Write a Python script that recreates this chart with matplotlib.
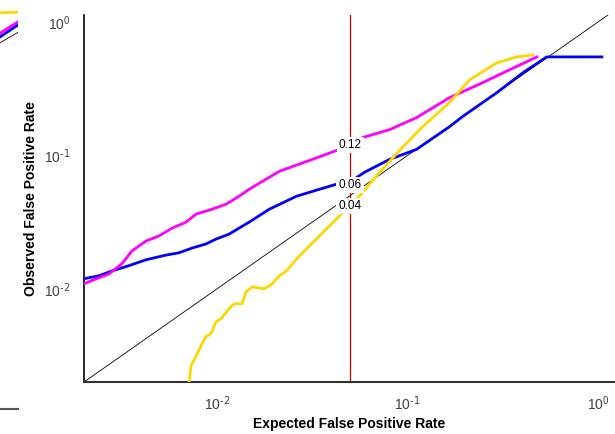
import numpy as np
import matplotlib
matplotlib.use("Agg")
import matplotlib.pyplot as plt

plt.rcParams['font.family'] = ['Liberation Sans', 'DejaVu Sans']
plt.rcParams['mathtext.default'] = 'regular'

# expected vs observed false positive rate
magenta_x = [0.002, 0.00239, 0.0027, 0.00316, 0.00357, 0.00423, 0.00495, 0.0058, 0.00687, 0.00775,
             0.00941, 0.01115, 0.01305, 0.01473, 0.0212, 0.0316, 0.0439, 0.0514, 0.058, 0.0804,
             0.1115, 0.166, 0.248, 0.344, 0.478]
magenta_y = [0.0109, 0.0121, 0.0129, 0.0154, 0.0192, 0.0228, 0.0249, 0.0285, 0.0316, 0.0363,
             0.0395, 0.0431, 0.0494, 0.0557, 0.076, 0.0933, 0.111, 0.119, 0.136, 0.156,
             0.192, 0.271, 0.351, 0.439, 0.548]

blue_x = [0.002, 0.00239, 0.0028, 0.00344, 0.00423, 0.0054, 0.0063, 0.00738, 0.00875, 0.00988,
          0.01157, 0.01473, 0.0188, 0.0261, 0.0344, 0.0439, 0.0514, 0.0594, 0.0804, 0.1115,
          0.166, 0.195, 0.294, 0.403, 0.539, 1.05]
blue_y = [0.0119, 0.0125, 0.0136, 0.0149, 0.0165, 0.0179, 0.0186, 0.0202, 0.0217, 0.0236,
          0.0257, 0.0316, 0.0395, 0.0494, 0.0557, 0.0618, 0.065, 0.0747, 0.0933, 0.111,
          0.164, 0.196, 0.295, 0.416, 0.548, 0.548]

yellow_x = [0.0071, 0.00713, 0.0073, 0.00775, 0.00824, 0.00875, 0.00929, 0.00988, 0.0105, 0.01157,
            0.01229, 0.01355, 0.0142, 0.0153, 0.0177, 0.0195, 0.0212, 0.0231, 0.0261, 0.0332,
            0.0466, 0.0558, 0.0713, 0.0942, 0.12, 0.166, 0.212, 0.294, 0.375, 0.455]
yellow_y = [0.0018, 0.002, 0.00266, 0.00311, 0.00376, 0.00439, 0.00462, 0.00567, 0.00597, 0.0071,
            0.00773, 0.00773, 0.0095, 0.01035, 0.01, 0.0109, 0.0125, 0.0136, 0.0167, 0.0236,
            0.0382, 0.0494, 0.0747, 0.115, 0.164, 0.249, 0.369, 0.494, 0.548, 0.567]

cutoff = 0.05
cutoff_labels = ['0.12', '0.06', '0.04']
cutoff_values = [0.12, 0.06, 0.042]

tick_vals = [0.01, 0.1, 1]
tick_labels = [r'$10^{\text{-2}}$', r'$10^{\text{-1}}$', r'$10^{0}$']

# tail of the neighbouring panel, cut off at the left edge
left_x = [0.99, 1.23]
left_yellow = [0.99, 1.0]
left_magenta = [0.72, 0.86]
left_blue = [0.68, 0.82]
left_black = [0.62, 0.73]

fig = plt.figure(figsize=(6.15, 4.34), dpi=100)

ax0 = fig.add_axes([(18 - 531) / 615, 1 - 409 / 434, 531 / 615, 404 / 434])
ax0.set_xscale('log'), ax0.set_yscale('log')
ax0.set_xlim(0.002, 1.23), ax0.set_ylim(0.002, 1.12)
ax0.plot(left_x, left_black, color='black', lw=0.6)
ax0.plot(left_x, left_blue, color='#0000ff', lw=2)
ax0.plot(left_x, left_magenta, color='#ff00ff', lw=2)
ax0.plot(left_x, left_yellow, color='#ffd700', lw=2)
for s in ['top', 'right', 'left']:
    ax0.spines[s].set_visible(False)
ax0.spines['bottom'].set_color('#555555')
ax0.spines['bottom'].set_linewidth(1.5)
ax0.set_xticks([]), ax0.set_yticks([])
ax0.minorticks_off()

ax = fig.add_axes([84 / 615, 1 - 382 / 434, 531 / 615, 367 / 434])
ax.set_xscale('log'), ax.set_yscale('log')
ax.set_xlim(0.002, 1.23)
ax.set_ylim(0.002, 1.13)

ax.plot([0.002, 1.23], [0.002, 1.23], color='black', lw=0.6, zorder=2)
ax.axvline(cutoff, color='#cc0000', lw=0.9, zorder=2)
ax.plot(blue_x, blue_y, color='#0000ff', lw=2, zorder=3)
ax.plot(magenta_x, magenta_y, color='#ff00ff', lw=2, zorder=3)
ax.plot(yellow_x, yellow_y, color='#ffd700', lw=2, zorder=3)

for lab, v in zip(cutoff_labels, cutoff_values):
    ax.text(cutoff, v, lab, ha='center', va='center', fontsize=8.5, color='black', zorder=5,
            bbox=dict(facecolor='white', edgecolor='none', pad=1.5))

for s in ['top', 'right']:
    ax.spines[s].set_visible(False)
ax.spines['left'].set_color('black')
ax.spines['left'].set_linewidth(1.2)
ax.spines['bottom'].set_color('#333333')
ax.spines['bottom'].set_linewidth(1.5)

ax.set_xticks(tick_vals)
ax.set_xticklabels(tick_labels)
ax.set_yticks(tick_vals)
ax.set_yticklabels(tick_labels)
ax.minorticks_off()
ax.tick_params(length=0, labelsize=10, labelcolor='#404040')
ax.tick_params(axis='x', pad=9)
ax.tick_params(axis='y', pad=10)

ax.set_xlabel('Expected False Positive Rate', fontsize=10, fontweight='bold', labelpad=3)
ax.set_ylabel('Observed False Positive Rate', fontsize=10, fontweight='bold', labelpad=4)

plt.savefig('out.png', dpi=100)
